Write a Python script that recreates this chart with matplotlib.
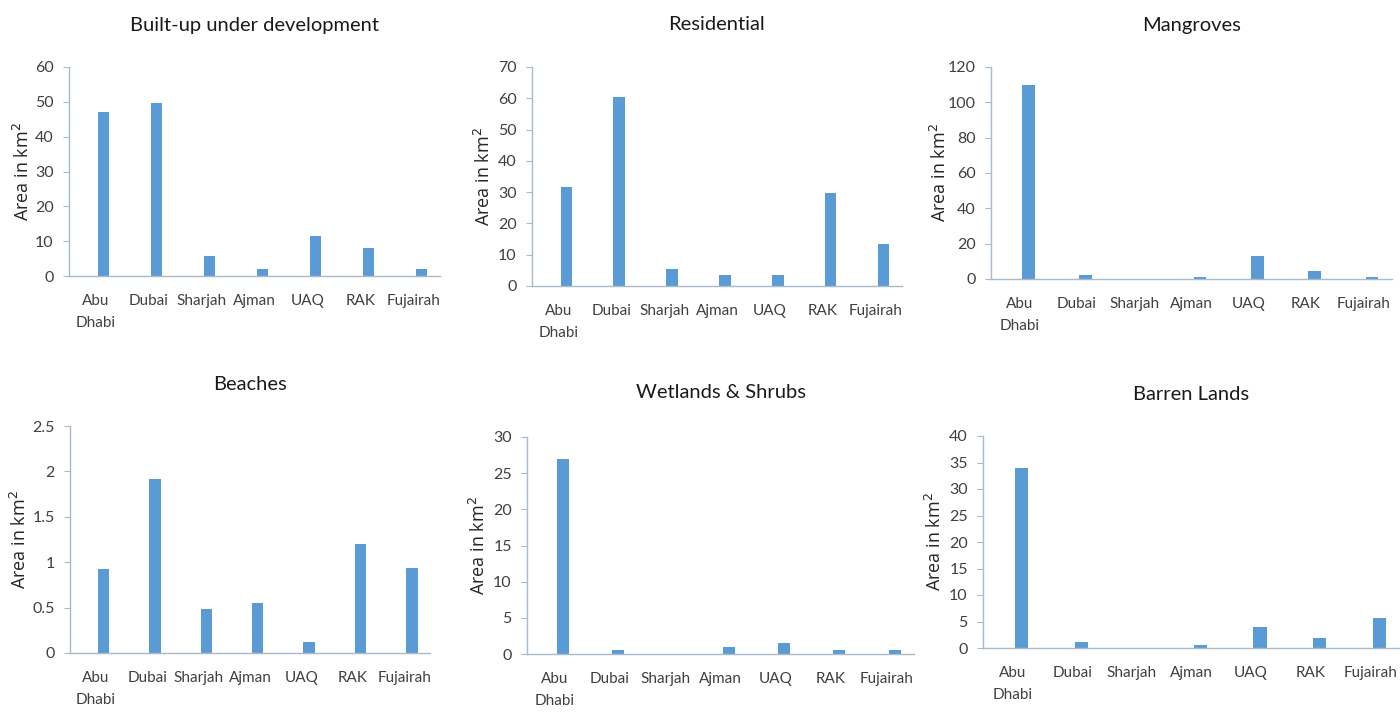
import matplotlib
matplotlib.use("Agg")
import matplotlib.pyplot as plt
import numpy as np

emirates = ["Abu\nDhabi", "Dubai", "Sharjah", "Ajman", "UAQ", "RAK", "Fujairah"]

built_up = [47.0, 49.7, 5.8, 2.0, 11.4, 8.0, 2.0]
residential = [31.7, 60.5, 5.5, 3.6, 3.6, 29.8, 13.3]
mangroves = [110.0, 2.0, 0.0, 1.0, 13.0, 4.5, 1.0]
beaches = [0.93, 1.92, 0.48, 0.55, 0.12, 1.2, 0.94]
wetlands = [27.0, 0.6, 0.0, 0.9, 1.5, 0.6, 0.6]
barren = [34.0, 1.2, 0.0, 0.6, 4.0, 1.8, 5.7]

titles = ["Built-up under development", "Residential", "Mangroves",
          "Beaches", "Wetlands & Shrubs", "Barren Lands"]
series = [built_up, residential, mangroves, beaches, wetlands, barren]
y_max = [60, 70, 120, 2.5, 30, 40]
y_step = [10, 10, 20, 0.5, 5, 5]

W, H = 1400, 713
# left, top, right, bottom of each plot area in pixels
boxes = [(69, 67, 440, 276), (532, 67, 902, 286), (991, 67, 1392, 279),
         (70, 426, 430, 653), (527, 437, 914, 654), (983, 436, 1400, 648)]
title_y = [25, 25, 25, 385, 393, 394]
ylabel_x = [25, 486, 942, 22, 481, 937]

bar_color = "#5B9BD5"
axis_color = "#A9BACB"
text_color = "#404040"

fig = plt.figure(figsize=(W / 100, H / 100), dpi=100)

for i in range(6):
    l, t, r, b = boxes[i]
    ax = fig.add_axes([l / W, 1 - b / H, (r - l) / W, (b - t) / H])
    x = np.arange(len(emirates))
    ax.bar(x + 0.15, series[i], width=0.22, color=bar_color)
    ax.set_xlim(-0.5, len(emirates) - 0.5)
    ax.set_ylim(0, y_max[i])
    ticks = np.arange(0, y_max[i] + y_step[i] / 2, y_step[i])
    ax.set_yticks(ticks)
    if y_step[i] < 1:
        ax.set_yticklabels([("%g" % v) for v in ticks])
    else:
        ax.set_yticklabels([("%d" % v) for v in ticks])
    ax.set_xticks(x)
    ax.set_xticklabels(emirates, fontsize=11, family="Lato", color=text_color,
                       linespacing=1.75, va="top")
    for lab in ax.get_yticklabels():
        lab.set_fontsize(11.5)
        lab.set_family("Lato")
        lab.set_color(text_color)
    for s in ["top", "right"]:
        ax.spines[s].set_visible(False)
    for s in ["left", "bottom"]:
        ax.spines[s].set_color(axis_color)
        ax.spines[s].set_linewidth(1.0)
    ax.tick_params(axis="x", length=0, pad=13)
    ax.tick_params(axis="y", length=4, width=0.8, color=axis_color, pad=7)
    ax.set_ylabel("Area in km$^2$", fontsize=13, family="Open Sans",
                  color="#262626")
    ax.yaxis.set_label_coords((ylabel_x[i] + 8 - l) / (r - l), 0.5)
    fig.text((l + r) / 2 / W, 1 - title_y[i] / H, titles[i], ha="center",
             va="center", fontsize=14.5, family="Lato", color="#1a1a1a")

fig.savefig("out.png", dpi=100, facecolor="white")
